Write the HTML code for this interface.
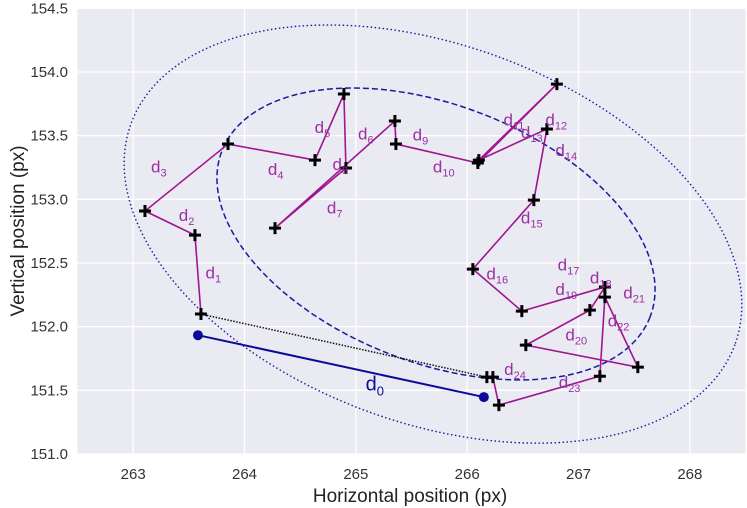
<!DOCTYPE html>
<html><head><meta charset="utf-8"><style>
html,body{margin:0;padding:0;background:#fff;}
svg{display:block;font-family:"Liberation Sans",sans-serif;}
</style></head><body>
<svg id="chart" width="747" height="508" viewBox="0 0 747 508">
<rect x="77.5" y="8.3" width="668" height="445.7" fill="#eaeaf2"/>
<g id="grid"></g>
<g id="ellipses"></g>
<g id="lines"></g>
<g id="marks"></g>
<g id="labels"></g>
<g id="ticks"></g>
<text x="410" y="502" text-anchor="middle" font-size="19" fill="#222">Horizontal position (px)</text>
<text transform="translate(24,231) rotate(-90)" text-anchor="middle" font-size="19" fill="#222">Vertical position (px)</text>
</svg>
<script>
const xTicks = [263, 264, 265, 266, 267, 268];
const yTicks = [151.0, 151.5, 152.0, 152.5, 153.0, 153.5, 154.0, 154.5];
const trackX = [263.609, 263.555, 263.106, 263.852, 264.633, 264.893, 264.911, 264.274, 265.351, 265.360, 266.096, 266.806, 266.105, 266.716, 266.599, 266.051, 266.491, 267.237, 267.102, 266.527, 267.533, 267.237, 267.192, 266.285, 266.231, 266.177];
const trackY = [152.099, 152.719, 152.908, 153.434, 153.308, 153.827, 153.246, 152.774, 153.615, 153.434, 153.285, 153.905, 153.308, 153.552, 152.994, 152.452, 152.122, 152.311, 152.130, 151.855, 151.682, 152.232, 151.611, 151.384, 151.604, 151.604];
const d0X = [263.582, 266.150];
const d0Y = [151.933, 151.447];
const labelNames = ["1","2","3","4","5","6","7","8","9","10","11","12","13","14","15","16","17","18","19","20","21","22","23","24"];
const labelX = [263.72, 263.48, 263.23, 264.28, 264.70, 265.09, 264.81, 264.86, 265.58, 265.79, 266.42, 266.80, 266.58, 266.89, 266.58, 266.27, 266.91, 267.20, 266.89, 266.98, 267.50, 267.36, 266.92, 266.43];
const labelY = [152.38, 152.83, 153.21, 153.19, 153.52, 153.47, 152.89, 153.23, 153.46, 153.21, 153.58, 153.58, 153.48, 153.34, 152.81, 152.37, 152.44, 152.34, 152.25, 151.89, 152.22, 152.00, 151.52, 151.62];
const ellCX = [265.720, 265.693];
const ellCY = [152.728, 152.727];

const X0=262.5, X1=268.5, Y0=151.0, Y1=154.5, PL=77.5, PR=745.5, PT=8.3, PB=454;
function sx(v){return PL+(v-X0)/(X1-X0)*(PR-PL);}
function sy(v){return PB-(v-Y0)/(Y1-Y0)*(PB-PT);}
const NS="http://www.w3.org/2000/svg";
function mk(tag,attrs,parent){const e=document.createElementNS(NS,tag);for(const k in attrs)e.setAttribute(k,attrs[k]);document.getElementById(parent).appendChild(e);return e;}

xTicks.forEach(t=>{
  const l=mk('line',{x1:sx(t),x2:sx(t),y1:PT,y2:PB,stroke:'#fff','stroke-width':1.3},'grid');
  
  
  const tx=mk('text',{x:sx(t),y:479,'text-anchor':'middle','font-size':15,fill:'#333'},'ticks');
  tx.textContent=String(t);
  
  
});
yTicks.forEach(t=>{
  const l=mk('line',{x1:PL,x2:PR,y1:sy(t),y2:sy(t),stroke:'#fff','stroke-width':1.3},'grid');
  
  
  const tx=mk('text',{x:68,y:sy(t)+5,'text-anchor':'end','font-size':15,fill:'#333'},'ticks');
  tx.textContent=t.toFixed(1);
  
  
});

const ellShape=[{a:229.6,b:128.7,th:21.2,dash:'6,3',w:1.5,name:'inner-ellipse-dashed'},{a:321.5,b:189,th:20.1,dash:'1.5,2.5',w:1.4,name:'outer-ellipse-dotted'}];
ellShape.forEach((s,i)=>{
  const e=mk('ellipse',{cx:0,cy:0,rx:s.a,ry:s.b,fill:'none',stroke:'#1a1aa0','stroke-width':s.w,'stroke-dasharray':s.dash,
    transform:`translate(${sx(ellCX[i])},${sy(ellCY[i])}) rotate(${s.th})`},'ellipses');
  
  
});

const n=trackX.length;
const dl=mk('line',{x1:sx(trackX[0]),y1:sy(trackY[0]),x2:sx(trackX[n-1]),y2:sy(trackY[n-1]),stroke:'#111','stroke-width':1.5,'stroke-dasharray':'1.5,1.5'},'lines');



const pts=trackX.map((x,i)=>sx(x)+','+sy(trackY[i])).join(' ');
const pl=mk('polyline',{points:pts,fill:'none',stroke:'#a0168f','stroke-width':1.6},'lines');



const bl=mk('line',{x1:sx(d0X[0]),y1:sy(d0Y[0]),x2:sx(d0X[1]),y2:sy(d0Y[1]),stroke:'#0a0a9a','stroke-width':2},'lines');


d0X.forEach((x,i)=>{
  const c=mk('circle',{cx:sx(x),cy:sy(d0Y[i]),r:5,fill:'#0a0a9a'},'marks');
  
  
});

trackX.forEach((x,i)=>{
  const px=sx(x),py=sy(trackY[i]);
  const p=mk('path',{d:`M${px-6},${py}H${px+6}M${px},${py-6}V${py+6}`,stroke:'#000','stroke-width':3},'marks');
  
  
});

labelNames.forEach((nm,i)=>{
  const t=mk('text',{x:sx(labelX[i]),y:sy(labelY[i]),'font-size':17,fill:'#9b2fa3','text-anchor':'middle'},'labels');
  t.innerHTML=`d<tspan font-size="11" dy="4">${nm}</tspan>`;
  
  
});
const t0=mk('text',{x:sx(265.17),y:sy(151.50),'font-size':20,fill:'#0a0a9a','text-anchor':'middle'},'labels');
t0.innerHTML='d<tspan font-size="13" dy="5">0</tspan>';


</script>
</body></html>
